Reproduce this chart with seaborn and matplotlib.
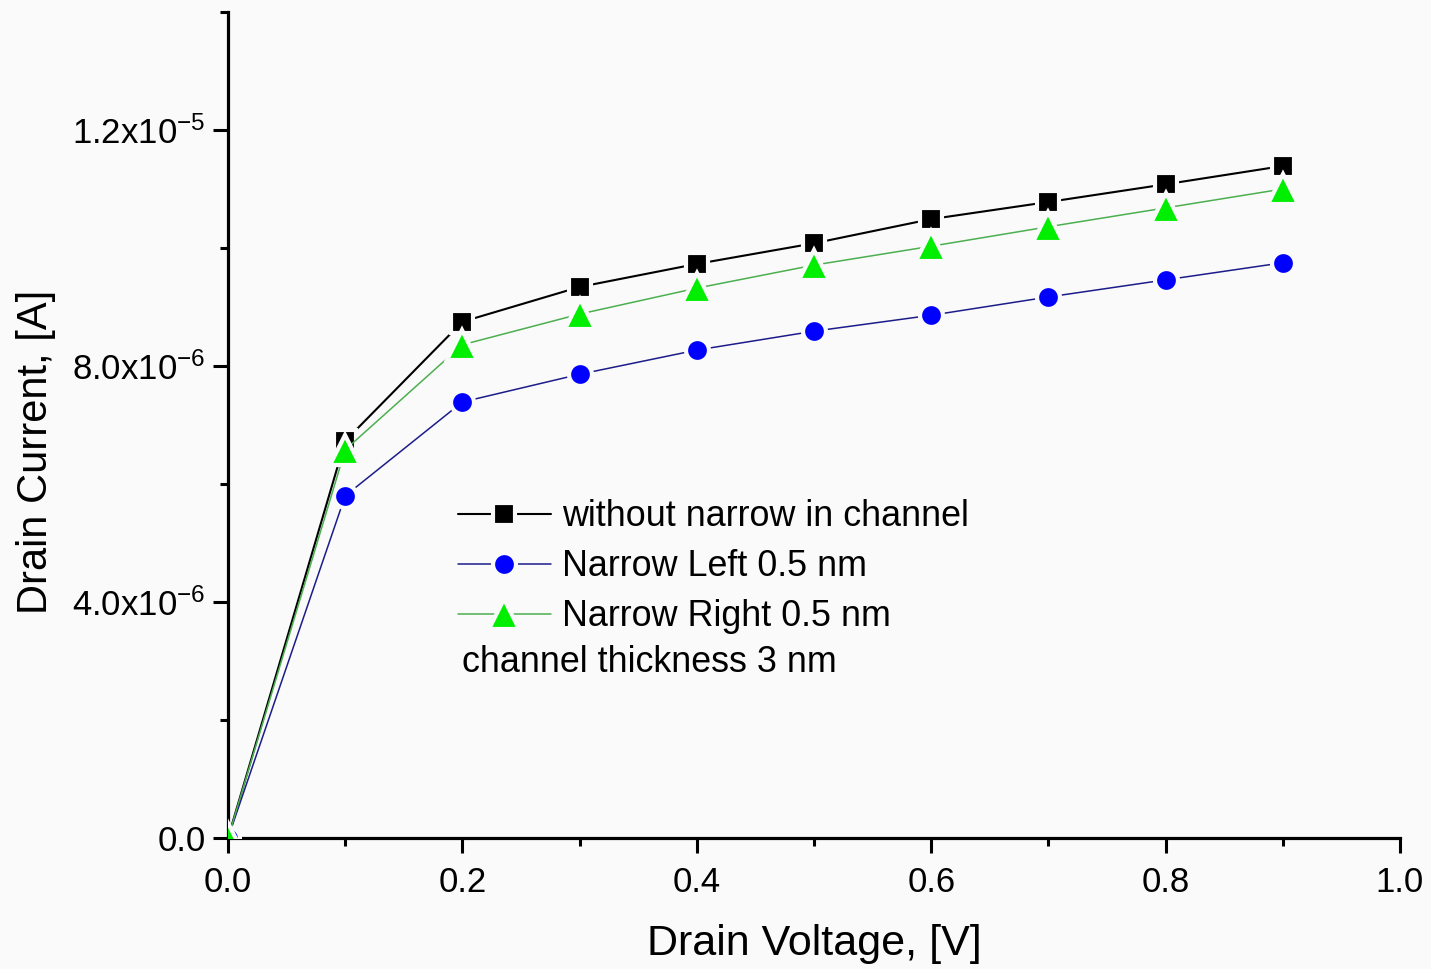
import numpy as np
import pandas as pd
import matplotlib
matplotlib.use("Agg")
import matplotlib.pyplot as plt
from matplotlib.ticker import MultipleLocator, FixedLocator, FixedFormatter
import seaborn as sns

# Drain voltage sweep (V)
drain_voltage = [0.0, 0.1, 0.2, 0.3, 0.4, 0.5, 0.6, 0.7, 0.8, 0.9]

# Drain current (A) for each channel geometry
current_no_narrow = [0.0, 6.73e-6, 8.75e-6, 9.34e-6, 9.73e-6, 10.08e-6,
                     10.49e-6, 10.78e-6, 11.08e-6, 11.39e-6]
current_narrow_left = [0.0, 5.80e-6, 7.39e-6, 7.86e-6, 8.27e-6, 8.59e-6,
                       8.86e-6, 9.17e-6, 9.46e-6, 9.75e-6]
current_narrow_right = [0.0, 6.58e-6, 8.36e-6, 8.88e-6, 9.32e-6, 9.71e-6,
                        10.03e-6, 10.36e-6, 10.68e-6, 11.00e-6]

series_names = ["without narrow in channel", "Narrow Left 0.5 nm", "Narrow Right 0.5 nm"]
note_text = "channel thickness 3 nm"

x_tick_values = [0.0, 0.2, 0.4, 0.6, 0.8, 1.0]
x_tick_labels = ["0.0", "0.2", "0.4", "0.6", "0.8", "1.0"]
y_tick_values = [0.0, 4e-6, 8e-6, 1.2e-5]
y_tick_labels = ["0.0", r"4.0x10$^{\mathregular{-6}}$", r"8.0x10$^{\mathregular{-6}}$",
                 r"1.2x10$^{\mathregular{-5}}$"]

sns.set_theme(style="ticks")
plt.rcParams["font.family"] = ["Liberation Sans", "DejaVu Sans"]
plt.rcParams["mathtext.fontset"] = "custom"
plt.rcParams["mathtext.rm"] = "Liberation Sans"
plt.rcParams["mathtext.it"] = "Liberation Sans"

BG = "#fafafa"

df = pd.DataFrame({
    "V": drain_voltage * 3,
    "I": current_no_narrow + current_narrow_left + current_narrow_right,
    "series": [n for n in series_names for _ in drain_voltage],
})

fig = plt.figure(figsize=(14.31, 9.69), dpi=100, facecolor=BG)
ax = fig.add_axes([228 / 1431, 131 / 969, 1172 / 1431, 826 / 969])
ax.set_facecolor(BG)

# Background-coloured marker edges leave a small gap where the line meets each marker
styles = {
    "without narrow in channel": dict(line="#000000", face="#000000", marker="s", ms=16.5, lw=1.5),
    "Narrow Left 0.5 nm": dict(line="#1c1c8a", face="#0000ff", marker="o", ms=16.5, lw=1.1),
    "Narrow Right 0.5 nm": dict(line="#4caf50", face="#00ee00", marker="^", ms=21, lw=1.1),
}

for name in series_names:
    st = styles[name]
    sub = df[df["series"] == name]
    sns.lineplot(data=sub, x="V", y="I", ax=ax, color=st["line"], lw=st["lw"],
                 marker=st["marker"], markersize=st["ms"], markerfacecolor=st["face"],
                 markeredgecolor=BG, markeredgewidth=3, label=name, zorder=3)

ax.set_xlim(0, 1.0)
ax.set_ylim(0, 1.4e-5)

ax.xaxis.set_major_locator(FixedLocator(x_tick_values))
ax.xaxis.set_major_formatter(FixedFormatter(x_tick_labels))
ax.xaxis.set_minor_locator(MultipleLocator(0.1))
ax.yaxis.set_major_locator(FixedLocator(y_tick_values))
ax.yaxis.set_major_formatter(FixedFormatter(y_tick_labels))
ax.yaxis.set_minor_locator(FixedLocator([2e-6, 6e-6, 1e-5, 1.4e-5]))

for side in ["top", "right"]:
    ax.spines[side].set_visible(False)
for side in ["left", "bottom"]:
    ax.spines[side].set_linewidth(2.3)
    ax.spines[side].set_color("black")

ax.tick_params(which="major", direction="out", length=11, width=2.2, labelsize=25,
               colors="black")
ax.tick_params(axis="x", which="major", pad=9)
ax.tick_params(axis="y", which="major", pad=5)
ax.tick_params(which="minor", direction="out", length=6, width=2.2, colors="black")

ax.set_xlabel("Drain Voltage, [V]", fontsize=31, labelpad=18, color="black")
ax.set_ylabel("Drain Current, [A]", fontsize=30, color="black")
ax.yaxis.set_label_coords(-0.147, (838 - 452) / 826)

leg = ax.legend(loc="upper left", bbox_to_anchor=(0.196, 0.41), frameon=False,
                fontsize=25.8, handlelength=2.6, handletextpad=0.3, labelspacing=0.42,
                borderpad=0, borderaxespad=0)
for t in leg.get_texts():
    t.set_color("black")

ax.text((462 - 228) / 1172, (838 - 662) / 826, note_text, transform=ax.transAxes,
        fontsize=25.8, va="center", ha="left", color="black")

fig.savefig("out.png", dpi=100, facecolor=fig.get_facecolor())
